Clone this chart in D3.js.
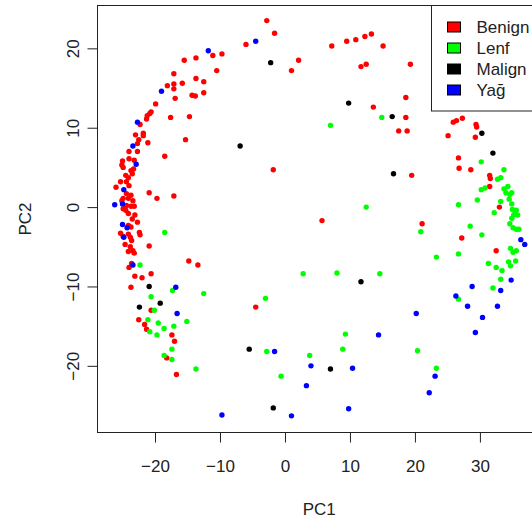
<!DOCTYPE html>
<html>
<head>
<meta charset="utf-8">
<script src="https://cdn.jsdelivr.net/npm/d3@7"></script>
<style>
  body { margin: 0; background: #fff; }
  text { font-family: "Liberation Sans", Arial, sans-serif; fill: #222; }
</style>
</head>
<body>
<div id="chart"></div>
<script>
// PCA scores, [PC1, PC2]
const benign = [
  [-2.8, 23.5], [-6.0, 20.5], [-11.1, 19.1], [-9.7, 19.3], [-15.5, 18.5], [-13.7, 18.8],
  [-10.5, 17.2], [-17.1, 16.8], [-13.7, 16.2], [-12.5, 15.8], [-18.1, 15.3], [-17.1, 15.5],
  [-15.8, 15.6], [-17.1, 14.9], [-14.3, 14.1], [-13.8, 14.0], [-12.5, 14.4], [-16.9, 13.7],
  [-19.9, 13.0], [-20.6, 12.0], [-20.8, 11.8], [-21.2, 11.5], [-21.3, 11.1], [-17.6, 11.3],
  [-14.7, 11.4], [-22.3, 10.4], [-23.0, 9.1], [-21.8, 9.3], [-21.8, 9.0], [-22.5, 8.5],
  [-22.7, 8.0], [-21.1, 8.1], [-15.3, 8.5], [-24.0, 7.0], [-22.7, 7.0], [-18.5, 6.4],
  [-24.0, 6.1], [-23.2, 5.9], [-25.0, 5.8], [-25.1, 5.3], [-24.9, 5.0], [-23.3, 4.8],
  [-23.7, 4.6], [-23.5, 4.2], [-24.5, 4.0], [-24.1, 3.7], [-25.3, 3.2], [-24.4, 3.2],
  [-24.0, 2.7], [-26.0, 2.5], [-24.4, 1.7], [-23.7, 1.5], [-24.1, 1.1], [-24.9, 1.1],
  [-23.4, 0.8], [-25.1, 0.8], [-24.4, 0.2], [-23.7, 0.1], [-23.2, 0.1], [-24.9, -0.2],
  [-24.5, -0.4], [-24.1, -0.8], [-23.1, -1.0], [-23.5, -1.5], [-22.7, -1.9], [-24.1, -2.3],
  [-23.7, -2.5], [-25.3, -3.3], [-24.1, -3.4], [-24.9, -3.7], [-23.8, -3.8], [-22.4, -3.2],
  [-22.3, -3.5], [-23.6, -4.2], [-24.6, -4.7], [-23.8, -5.0], [-23.4, -5.5], [-24.1, -5.6],
  [-23.2, -5.8], [-23.6, -7.1], [-24.0, -7.6], [-20.9, 1.8], [-19.7, 1.1], [-17.1, 1.4],
  [-20.9, -4.9], [-14.8, -6.8], [-13.4, -7.3], [-20.6, -8.4], [-23.1, -8.7], [-22.0, -8.9],
  [-23.7, -10.1], [-20.6, -13.0], [-4.5, -12.6], [-22.5, -14.2], [-21.6, -14.8], [-21.3, -15.4],
  [-17.4, -16.1], [-17.0, -16.9], [-18.2, -19.0], [-16.7, -21.1],
  [-1.6, 21.9], [2.1, 18.5], [1.0, 17.2], [7.2, 20.3], [9.5, 20.9], [10.9, 21.1],
  [12.3, 21.5], [13.3, 21.8], [15.1, 20.3], [11.7, 17.7], [12.5, 18.0], [19.3, 18.0],
  [18.6, 13.8], [13.6, 12.6], [18.6, 11.3], [17.5, 9.6], [18.8, 9.6],
  [25.9, 10.7], [26.4, 10.9], [27.3, 11.2], [25.1, 9.0], [29.4, 10.4], [29.5, 10.1], [29.3, 8.8],
  [-1.8, 4.7], [19.5, 4.0], [5.7, -1.7], [21.1, -2.1],
  [26.7, 6.2], [26.8, 4.9], [28.6, 4.7], [31.5, 4.0], [31.6, 3.6], [31.5, 2.6],
  [33.0, 0.0], [27.2, -3.9], [32.5, -5.5]
];

const lenf = [
  [14.9, 11.3], [7.0, 10.3], [12.5, 0.0], [20.9, -3.1], [23.3, -6.3], [2.8, -8.4],
  [8.0, -8.3], [14.6, -8.4], [-18.5, -3.2], [-22.3, -7.3],
  [-17.3, -10.5], [-12.5, -10.9], [-20.6, -11.3], [-3.0, -11.5], [-20.1, -13.0], [-21.1, -14.2],
  [-19.5, -14.6], [-15.1, -14.4], [-20.8, -15.7], [-18.6, -15.3], [-17.1, -15.0], [-19.7, -16.1],
  [-17.4, -17.9], [-2.8, -18.2], [-18.6, -18.7], [-17.4, -19.2], [-13.7, -20.4],
  [9.3, -16.0], [3.8, -18.7], [8.9, -17.9], [20.4, -18.1], [23.3, -20.3], [-0.6, -21.3],
  [30.2, 5.7], [33.7, 4.7], [32.7, 3.5], [33.2, 3.7], [30.2, 2.2], [30.8, 2.4],
  [33.7, 2.3], [34.3, 2.6], [34.0, 1.8], [34.6, 1.6], [34.9, 1.8], [29.6, 0.9],
  [33.2, 0.7], [34.5, 1.0], [34.9, 0.4], [26.7, 0.3], [35.0, -0.3], [35.4, -0.5],
  [35.6, -0.4], [35.8, -1.0], [35.2, -1.0], [32.2, -0.7], [34.9, -1.4], [28.5, -2.4],
  [34.6, -2.1], [35.1, -2.6], [35.6, -2.8], [36.0, -2.8], [30.3, -3.5], [34.7, -5.2],
  [35.1, -5.7], [35.6, -5.5], [26.7, -5.9], [31.3, -7.1], [32.5, -7.6], [33.4, -8.0],
  [34.4, -6.9], [35.5, -6.8], [34.7, -7.4], [33.2, -9.1], [32.0, -10.2], [26.7, -11.6]
];

const malign = [
  [-2.2, 18.2], [-6.9, 7.7], [9.8, 13.1], [16.5, 11.4], [16.7, 4.2], [30.3, 9.3],
  [32.0, 6.8], [11.7, -9.4], [7.0, -20.4], [-20.9, -10.0], [-19.2, -12.1], [-22.4, -12.6],
  [-5.5, -17.9], [-1.8, -25.3]
];

const yag = [
  [-4.5, 20.9], [-11.8, 19.7], [-19.0, 14.6], [-22.7, 10.7], [-23.4, 7.7], [-22.9, 5.4],
  [-24.8, 2.2], [-26.2, 0.3], [-25.0, 0.4], [-25.0, -2.2], [-24.3, -2.6], [-24.8, -3.8],
  [-23.4, -7.3], [-16.8, -10.1], [-16.6, -13.4], [-9.7, -26.2], [1.0, -26.3], [9.8, -25.4],
  [-1.6, -18.2], [4.0, -20.0], [10.4, -20.3], [3.3, -22.5], [14.4, -16.1], [20.2, -13.4],
  [23.1, -21.3], [22.2, -23.4], [26.3, -11.2], [28.1, -12.5], [32.7, -12.5], [30.4, -13.9],
  [29.3, -15.8], [28.8, -10.0], [34.8, -9.2], [33.2, -10.5], [36.3, -4.1], [36.9, -4.7]
];

const groups = ['Benign', 'Lenf', 'Malign', 'Yağ'];
const groupColors = ['#ff0000', '#00ff00', '#000000', '#0000ff'];
const xTicks = [-20, -10, 0, 10, 20, 30];
const yTicks = [-20, -10, 0, 10, 20];

const W = 532, H = 518;
const plot = { left: 97.5, right: 541, top: 5.5, bottom: 432.5 };
const fontSize = '17px';

const svg = d3.select('#chart').append('svg')
  .attr('width', W)
  .attr('height', H);

const x = d3.scaleLinear()
  .domain([-28.85, 39.4])
  .range([plot.left, plot.right]);

const y = d3.scaleLinear()
  .domain([-28.4, 25.4])
  .range([plot.bottom, plot.top]);

const color = d3.scaleOrdinal()
  .domain(groups)
  .range(groupColors);

svg.append('clipPath').attr('id', 'clip')
  .append('rect')
  .attr('x', plot.left).attr('y', plot.top)
  .attr('width', plot.right - plot.left).attr('height', plot.bottom - plot.top);

// points
const series = [benign, lenf, malign, yag];
const points = [];
series.forEach((arr, i) => arr.forEach(p => points.push({ g: groups[i], x: p[0], y: p[1] })));

svg.append('g')
  .attr('clip-path', 'url(#clip)')
  .selectAll('circle')
  .data(points)
  .enter()
  .append('circle')
  .attr('cx', d => x(d.x))
  .attr('cy', d => y(d.y))
  .attr('r', 2.7)
  .attr('fill', d => color(d.g));

// box
svg.append('rect')
  .attr('x', plot.left).attr('y', plot.top)
  .attr('width', plot.right - plot.left).attr('height', plot.bottom - plot.top)
  .attr('fill', 'none')
  .attr('stroke', '#222')
  .attr('stroke-width', 1);

// axes
const xAxis = svg.append('g')
  .attr('transform', `translate(0,${plot.bottom})`)
  .call(d3.axisBottom(x).tickValues(xTicks).tickSize(10).tickPadding(17).tickFormat(d3.format('d')));

const yAxis = svg.append('g')
  .attr('transform', `translate(${plot.left},0)`)
  .call(d3.axisLeft(y).tickValues(yTicks).tickSize(10).tickFormat(d3.format('d')));

[xAxis, yAxis].forEach(a => {
  a.select('.domain').remove();
  a.selectAll('line').attr('stroke', '#222');
  a.selectAll('text')
    .attr('fill', '#222')
    .style('font-size', fontSize)
    .style('font-family', '"Liberation Sans", Arial, sans-serif');
});

yAxis.selectAll('text')
  .attr('x', 0)
  .attr('dy', 0)
  .attr('text-anchor', 'middle')
  .attr('transform', 'translate(-19,0) rotate(-90)');

// titles
svg.append('text')
  .attr('x', (plot.left + plot.right) / 2)
  .attr('y', 515)
  .attr('text-anchor', 'middle')
  .style('font-size', fontSize)
  .text('PC1');

svg.append('text')
  .attr('transform', `translate(31,${(plot.top + plot.bottom) / 2}) rotate(-90)`)
  .attr('text-anchor', 'middle')
  .style('font-size', fontSize)
  .text('PC2');

// legend
const legend = svg.append('g');
legend.append('rect')
  .attr('x', 431.5).attr('y', plot.top)
  .attr('width', plot.right - 431.5).attr('height', 111 - plot.top)
  .attr('fill', '#fff')
  .attr('stroke', '#222');

const item = legend.selectAll('g.item')
  .data(groups)
  .enter()
  .append('g')
  .attr('class', 'item')
  .attr('transform', (d, i) => `translate(0,${27 + i * 21})`);

item.append('rect')
  .attr('x', 447.5).attr('y', -5)
  .attr('width', 13).attr('height', 10)
  .attr('fill', d => color(d))
  .attr('stroke', '#000');

item.append('text')
  .attr('x', 476.5)
  .attr('dy', '0.35em')
  .style('font-size', fontSize)
  .text(d => d);
</script>
</body>
</html>
